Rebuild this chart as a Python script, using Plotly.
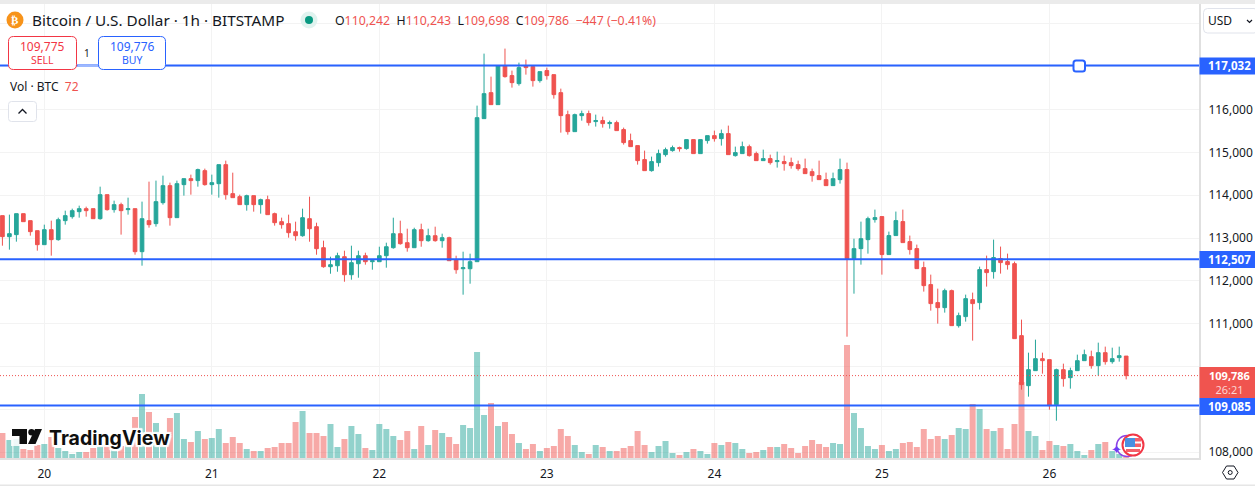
import pandas as pd
import plotly.graph_objects as go

# ---------------- data ----------------
START = "2025-08-19 18:00"
opens = [113523,113032,113079,113569,113406,113172,
112845,113195,112962,113406,113499,113616,113686,113686,113452,114013,113663,113780,113663,113686,112681,113406,113336,113826,114224,113476,114247,114387,114341,114574,114247,114270,114714,114037,113967,113780,113990,113780,113897,113569,113382,113336,
113148,113054,113452,113265,112774,112330,112353,112564,112143,112400,112587,112447,112447,112587,112774,113101,112891,112774,113195,112938,113054,112938,113008,112494,112283,112283,112447,115789,116396,116116,117027,116794,116607,117027,117004,116677,116911,116817,116396,115882,115485,115859,
115907,115720,115743,115673,115696,115533,115276,115159,114832,114574,114761,114948,115042,115112,115089,115299,114972,115276,115392,115322,115439,114925,114972,115135,114972,114808,114855,114785,114785,114761,114715,114621,114551,114458,114364,114224,114364,114598,112518,112752,112962,113431,
113501,112613,113057,113384,112916,112753,112309,111912,111491,111374,111771,110953,111164,111561,111491,112262,112215,112519,112449,112402,110720,109551,109902,110182,110159,109107,109925,109738,109902,110135,110229,110019,110322,110112,110206,110242]
highs = [113523,113546,113569,113569,113406,113172,
113312,113406,113476,113639,113686,113756,113733,113686,114200,114013,113873,113826,113943,113686,113850,114317,114341,114457,114294,114341,114387,114481,114621,114621,114481,114714,114808,114527,114013,114013,113990,113920,113990,113593,113476,113546,
113382,113686,113966,113358,112938,112564,112657,112704,112821,112704,112657,112470,112797,112891,113475,113405,113218,113241,113335,113218,113265,113101,113031,112587,112681,112634,116093,117308,116770,117040,117425,116911,117097,117168,117027,116887,116981,116817,116490,115976,115906,115976,
115977,115883,115836,115743,115743,115579,115439,115159,115042,114902,115065,115112,115159,115135,115299,115299,115299,115392,115509,115533,115626,115135,115252,115182,115018,115065,114948,115018,114925,114878,114808,114855,114621,114808,114528,114528,114855,114761,112985,113383,113499,113664,
113501,113150,113618,113664,113057,112846,112449,112145,111818,111818,111795,111257,111678,111725,112332,112589,112963,112800,112636,112449,111094,110322,110626,110322,110159,109948,110065,109972,110276,110393,110369,110556,110463,110439,110463,110243]
lows = [112821,112728,112915,113382,113055,112705,
112845,112588,112938,113312,113452,113476,113499,113452,113429,113639,113593,113079,113546,112611,112354,113242,113266,113780,113289,113476,113990,114013,114200,114224,114013,113943,113897,113943,113780,113639,113616,113569,113546,113289,113219,113008,
112938,113031,112914,112610,112307,112166,112213,111979,112026,112073,112377,112260,112447,112307,112751,112844,112681,112774,112797,112914,112914,112774,112470,112166,111676,111933,112447,115789,116116,116116,116747,116513,116560,116817,116537,116630,116700,116256,115462,115415,115485,115742,
115626,115603,115579,115556,115509,115182,115135,114715,114574,114551,114668,114902,115018,115018,115065,114972,114972,115205,115252,115159,114948,114902,114972,114902,114808,114808,114715,114645,114574,114621,114574,114504,114317,114364,114224,114224,114271,110695,111700,112378,112635,113360,
112145,112613,113057,112893,112613,112285,111748,111304,111000,111257,110953,110907,111047,110603,111327,111865,112052,112169,112262,110650,109458,109294,109902,109832,108990,108733,109528,109481,109902,110135,109948,109785,110042,110065,110112,109698]
closes = [113032,113102,113569,113382,113149,112845,
113195,112962,113429,113523,113639,113686,113639,113452,114013,113663,113780,113639,113686,112681,113452,113312,113850,114224,113476,114270,114387,114341,114598,114247,114294,114714,114013,113943,113780,113990,113780,113897,113546,113359,113312,113125,
113054,113475,113218,112751,112330,112377,112587,112143,112424,112587,112447,112470,112587,112797,113101,112868,112774,113195,112938,113054,112938,113008,112470,112260,112307,112447,115812,116373,116116,117027,116770,116630,116981,116981,116677,116887,116794,116350,115859,115485,115882,115906,
115696,115743,115673,115696,115509,115229,115135,114808,114574,114785,114972,115065,115112,115089,115299,114972,115299,115392,115322,115439,114948,114995,115135,114925,114808,114855,114761,114808,114738,114691,114621,114504,114458,114364,114224,114387,114598,112518,112752,112985,113453,113477,
112613,113057,113407,112893,112730,112285,111888,111468,111374,111771,110953,111187,111584,111468,112262,112192,112543,112426,112379,110650,109575,109925,110182,110135,109084,109925,109715,109902,110135,110276,110019,110322,110112,110182,110252,109786]
volumes = [1875,1350,1425,675,600,975,
1050,1575,750,525,300,450,450,750,900,975,600,900,975,3075,4800,3450,2625,900,3000,3375,1425,1200,2025,1425,1500,2175,1125,1575,1125,675,525,525,750,825,1125,1125,
2700,3525,1875,1875,1650,2550,825,1425,2400,1800,750,600,2550,2175,1650,1350,2025,675,2400,975,2100,1875,1575,1050,2475,2250,7950,3225,4125,2400,2700,1800,1125,675,1050,525,750,900,2175,1650,975,450,
300,975,825,525,525,750,900,2025,975,450,900,1275,375,225,450,675,525,300,1125,975,1200,1125,675,375,450,600,825,825,1050,750,375,900,1350,1050,825,1125,1050,8475,3375,2250,900,675,
975,525,675,1125,1200,825,2175,1425,1650,1425,1725,2250,2175,4050,3675,2175,2025,2250,675,2550,5700,2025,1650,600,1275,975,900,1050,525,225,600,1050,1200,525,300,72]
price_ticks = [108000,109000,110000,111000,112000,113000,114000,115000,116000,117000,118000]
hidden_ticks = [109000,110000,117000,118000]
day_ticks = ["2025-08-20","2025-08-21","2025-08-22","2025-08-23","2025-08-24","2025-08-25","2025-08-26"]
day_labels = ["20","21","22","23","24","25","26"]
levels = [117032,112507,109085]
last_price = 109786
assert {len(opens),len(highs),len(lows),len(closes),len(volumes)} == {162}

# ---------------- style ----------------
W, H = 1255, 487
PL, PR, PT, PB = 1199, 56, 4, 29      # plot right edge, right margin, top, bottom
PH = H - PT - PB
UP, DOWN, BLUE = "#26a69a", "#ef5350", "#2962ff"
INK = "#131722"
FONT = "Noto Sans"

def fx(px): return px / PL
def fy(py): return 1 - (py - PT) / PH

times = pd.date_range(START, periods=len(opens), freq="h")
vol_colors = ["rgba(38,166,154,0.5)" if c >= o else "rgba(239,83,80,0.5)" for o, c in zip(opens, closes)]

fig = go.Figure()
fig.add_trace(go.Bar(x=times, y=volumes, marker=dict(color=vol_colors, line_width=0),
                     yaxis="y", hoverinfo="skip", showlegend=False))
fig.add_trace(go.Candlestick(x=times, open=opens, high=highs, low=lows, close=closes, yaxis="y2",
                             whiskerwidth=0, showlegend=False,
                             increasing=dict(line=dict(color=UP, width=1), fillcolor=UP),
                             decreasing=dict(line=dict(color=DOWN, width=1), fillcolor=DOWN)))

shapes, ann = [], []

def rect(x0, y0, x1, y1, fill=None, line=None, lw=1, radius=0, layer="above"):
    if radius:
        r = radius
        rxs, rys = r / PL, r / PH
        a, b, c, d = fx(x0), fx(x1), fy(y0), fy(y1)
        path = (f"M {a+rxs} {c} L {b-rxs} {c} Q {b} {c} {b} {c-rys} L {b} {d+rys} Q {b} {d} {b-rxs} {d} "
                f"L {a+rxs} {d} Q {a} {d} {a} {d+rys} L {a} {c-rys} Q {a} {c} {a+rxs} {c} Z")
        shapes.append(dict(type="path", path=path, xref="paper", yref="paper", fillcolor=fill or "rgba(0,0,0,0)",
                           line=dict(color=line or "rgba(0,0,0,0)", width=lw), layer=layer))
    else:
        shapes.append(dict(type="rect", x0=fx(x0), x1=fx(x1), y0=fy(y0), y1=fy(y1), xref="paper", yref="paper",
                           fillcolor=fill or "rgba(0,0,0,0)", line=dict(color=line or "rgba(0,0,0,0)", width=lw), layer=layer))

def circle(cx, cy, r, fill=None, line=None, lw=1):
    shapes.append(dict(type="circle", x0=fx(cx-r), x1=fx(cx+r), y0=fy(cy-r), y1=fy(cy+r), xref="paper", yref="paper",
                       fillcolor=fill or "rgba(0,0,0,0)", line=dict(color=line or "rgba(0,0,0,0)", width=lw), layer="above"))

def poly(pts, fill=None, line=None, lw=1, close=True):
    p = "M " + " L ".join(f"{fx(x)} {fy(y)}" for x, y in pts) + (" Z" if close else "")
    shapes.append(dict(type="path", path=p, xref="paper", yref="paper", fillcolor=fill or "rgba(0,0,0,0)",
                       line=dict(color=line or "rgba(0,0,0,0)", width=lw), layer="above"))

def text(x, y, s, size=12, color=INK, anchor="left", family=FONT, **fontkw):
    ann.append(dict(x=fx(x), y=fy(y), xref="paper", yref="paper", text=s, showarrow=False, xanchor=anchor,
                    yanchor="middle", borderpad=0, font=dict(size=size, color=color, family=family, **fontkw)))

# horizontal levels and last-price line
shapes.append(dict(type="line", xref="paper", yref="y2", x0=0, x1=1, y0=last_price, y1=last_price,
                   line=dict(color=DOWN, width=1, dash="1px,2px"), layer="above"))
for lv in levels:
    shapes.append(dict(type="line", xref="paper", yref="y2", x0=0, x1=1, y0=lv, y1=lv,
                       line=dict(color=BLUE, width=2), layer="above"))

# top band, axis edges
rect(0, 0, W, PT, fill="#ebebeb")
rect(0, 484.5, W, 486, fill="#e6e6e6")

# handle on top level
rect(1073.5, 60.5, 1085, 71.5, fill="#ffffff", line=BLUE, lw=2, radius=2.5)

# price tags
def fmt(v): return f"{v:,}"
TAG_X = 1229
for lv, cy in zip(levels, [66, 259.5, 406.5]):
    rect(1199.5, cy-8.5, W, cy+8.5, fill=BLUE)
    text(TAG_X, cy, f"<b>{fmt(lv)}</b>", 11.5, "#ffffff", "center")
rect(1199.5, 367, W, 398, fill="#f0544f")
text(TAG_X, 382, f'<b>{fmt(last_price)}</b><br><span style="color:#fbd5d3">26:21</span>', 11, "#ffffff", "center")

# header
circle(15, 20, 8.5, fill="#f7931a")
text(15, 20, "<b>₿</b>", 11, "#ffffff", "center", family="DejaVu Sans")
text(30.5, 20, "Bitcoin / U.S. Dollar · 1h · BITSTAMP", 15.3)
circle(309, 20, 8.5, fill="#e0f3ef")
circle(309, 20, 4, fill="#089981")
R = f'<span style="color:{DOWN}">'
text(334, 20, f"O{R}110,242</span>  H{R}110,243</span>  L{R}109,698</span>  C{R}109,786</span>  {R}−447 (−0.41%)</span>", 12.3)

# sell / buy
rect(8.5, 36.5, 76.5, 69.5, fill="#ffffff", line="#f23645", radius=5)
rect(98.5, 36.5, 165.5, 69.5, fill="#ffffff", line=BLUE, radius=5)
rect(77.5, 65, 98, 67, fill="#9db8ff")
text(42.5, 46, "109,775", 12, "#f23645", "center")
text(42.5, 60, "SELL", 10.5, "#f23645", "center")
text(132, 46, "109,776", 12, BLUE, "center")
text(132, 60, "BUY", 10.5, BLUE, "center")
text(87, 53, "1", 10, INK, "center")

# volume label and collapse button
text(8.5, 87, f"Vol · BTC  {R}72</span>", 12)
rect(8.5, 101.5, 36.5, 121.5, fill="#ffffff", line="#e0e3eb", radius=3)
poly([(18.5, 113.5), (22.5, 109.5), (26.5, 113.5)], line=INK, lw=1.3, close=False)

# currency selector
rect(1203.5, 8.5, 1258, 33, fill="#ffffff", line="#e0e3eb", radius=4)
text(1207, 21, "USD", 12)
poly([(1247, 20), (1249.5, 22.5), (1252, 20)], line=INK, lw=1.2, close=False)

# settings icon
poly([(1222.5, 472.5), (1226.5, 466), (1234, 466), (1238, 472.5), (1234, 479), (1226.5, 479)], line=INK, lw=1)
circle(1230.2, 472.5, 2, line=INK, lw=1)

# TradingView logo
halo = ",".join(f"{dx}px {dy}px 1px #fff" for dx, dy in
                [(2,0),(-2,0),(0,2),(0,-2),(2,2),(-2,-2),(2,-2),(-2,2)])
poly([(11,427.5),(44,427.5),(37,446),(11,446)], fill="rgba(255,255,255,0.85)")
poly([(12,429),(27,429),(27,444),(19.5,444),(19.5,436),(12,436)], fill="#0f0f0f")
circle(31.5, 432.2, 3.2, fill="#0f0f0f")
poly([(35,429),(42,429),(35.5,444),(28,444)], fill="#0f0f0f")
text(48, 437.5, "<b>TradingView</b>", 19.5, "#0f0f0f", family="Inter", shadow=halo)

# economic event icons
circle(1127, 446, 10.5, line="#8e44e6", lw=1.5)
text(1116, 449, "✦", 13, "#6d3df5", "center", family="DejaVu Sans")
circle(1133, 445, 10.5, fill="#ffffff", line="#f23645", lw=2)
rect(1125, 438, 1135, 447, fill="#4a90e2")
rect(1135, 438, 1141, 441.5, fill="#f4606a")
rect(1135, 443.5, 1141, 447, fill="#f4606a")
rect(1126, 449, 1140, 452, fill="#f4606a")

left = pd.Timestamp("2025-08-20") - pd.Timedelta(hours=44.3/6.98)
right = pd.Timestamp("2025-08-20") + pd.Timedelta(hours=(1199-44.3)/6.98)
tick_text = ["" if v in hidden_ticks else f"{v:,}" for v in price_ticks]

fig.update_layout(
    width=W, height=H, autosize=False,
    margin=dict(l=0, r=PR, t=PT, b=PB, pad=0),
    paper_bgcolor="#ffffff", plot_bgcolor="#ffffff",
    showlegend=False, bargap=0.14, boxgap=0.25, hovermode=False,
    font=dict(family=FONT, size=12, color=INK),
    xaxis=dict(range=[left, right], rangeslider=dict(visible=False), tickmode="array",
               tickvals=day_ticks, ticktext=day_labels, showgrid=True, gridcolor="#f3f3f3", gridwidth=1,
               showline=True, linecolor="#e0e0e0", linewidth=2, ticks="outside", ticklen=4, tickcolor="rgba(0,0,0,0)",
               tickfont=dict(size=12, color=INK), zeroline=False),
    yaxis=dict(range=[0, PH*75], visible=False, fixedrange=True),
    yaxis2=dict(overlaying="y", side="right", range=[116000-(458-110)*23.36-9.3, 116000+(110-4)*23.36-9.3],
                tickmode="array", tickvals=price_ticks, ticktext=tick_text, showgrid=True,
                gridcolor="#f3f3f3", gridwidth=1, showline=True, linecolor="#e0e0e0", linewidth=2,
                ticks="outside", ticklen=5, tickcolor="rgba(0,0,0,0)", tickfont=dict(size=12, color=INK),
                zeroline=False),
    shapes=shapes, annotations=ann,
)
fig.write_html("out.html", config=dict(displayModeBar=False),
               post_script="document.body.style.margin='0';document.body.style.overflow='hidden';")
